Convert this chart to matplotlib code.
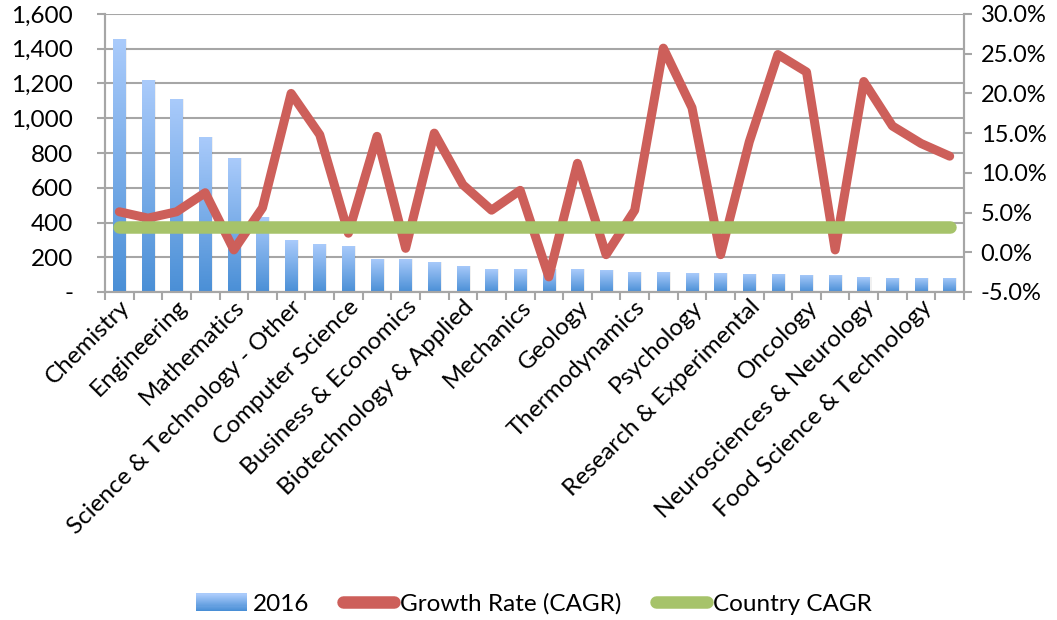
import numpy as np
import matplotlib
matplotlib.use("Agg")
import matplotlib.pyplot as plt
from matplotlib.ticker import FuncFormatter, FixedLocator
from matplotlib.patches import Rectangle
from matplotlib.lines import Line2D
from matplotlib.legend_handler import HandlerBase

plt.rcParams['font.family'] = ['Lato', 'DejaVu Sans']

categories = [
    "Chemistry", "Physics", "Engineering", "Materials Science", "Mathematics",
    "Optics", "Science & Technology - Other", "Polymer Science", "Computer Science",
    "Metallurgy", "Business & Economics", "Energy & Fuels", "Biotechnology & Applied",
    "Environmental Sciences", "Mechanics", "Instruments", "Geology", "Crystallography",
    "Thermodynamics", "Pharmacology", "Psychology", "Spectroscopy",
    "Research & Experimental", "Microbiology", "Oncology", "Acoustics",
    "Neurosciences & Neurology", "Water Resources", "Food Science & Technology",
    "Agriculture",
]
counts_2016 = [1456, 1220, 1111, 894, 771, 432, 299, 276, 265, 192,
               190, 173, 150, 132, 132, 130, 132, 127, 115, 115,
               109, 109, 104, 104, 98, 98, 86, 81, 81, 81]
growth_rate = [5.1, 4.3, 5.1, 7.5, 0.3, 5.6, 20.0, 14.8, 2.4, 14.6,
               0.5, 15.0, 8.5, 5.3, 7.8, -3.1, 11.2, -0.3, 5.3, 25.7,
               18.2, -0.3, 13.9, 24.9, 22.7, 0.3, 21.5, 15.9, 13.7, 12.1]
country_cagr = 3.2

left_ticks = [0, 200, 400, 600, 800, 1000, 1200, 1400, 1600]
right_ticks = [-5, 0, 5, 10, 15, 20, 25, 30]

bar_top = "#aacbfb"
bar_bottom = "#4a8fd6"
red = "#cd5f5a"
green = "#a6c36a"
grid_col = "#a6a6a6"

cmap = matplotlib.colors.LinearSegmentedColormap.from_list("bargrad", [bar_bottom, bar_top])


class GradientPatchHandler(HandlerBase):
    """Legend key drawn as a stack of thin strips fading from dark to light blue."""

    def create_artists(self, legend, orig_handle, xdescent, ydescent, width, height,
                       fontsize, trans):
        strips = []
        steps = 16
        for k in range(steps):
            y0 = -ydescent + height * k / steps
            r = Rectangle((-xdescent, y0), width, height / steps + 0.2,
                          facecolor=cmap(k / (steps - 1)), edgecolor="none",
                          transform=trans)
            strips.append(r)
        return strips


fig = plt.figure(figsize=(10.57, 6.20), dpi=100)
ax = fig.add_axes([105 / 1057, 1 - 292 / 620, (964 - 105) / 1057, (292 - 14) / 620])
ax2 = ax.twinx()

n = len(categories)
x = np.arange(n)

# bars with vertical gradient fill
bars = ax.bar(x, counts_2016, width=0.44, color="none", zorder=2)
grad = np.linspace(0, 1, 256).reshape(-1, 1)
for b in bars:
    x0, w, h = b.get_x(), b.get_width(), b.get_height()
    shadow = Rectangle((x0 + 0.05, 0), w, h, facecolor="#000000", alpha=0.06,
                       edgecolor="none", zorder=1.5)
    ax.add_patch(shadow)
    img = ax.imshow(grad, extent=(x0, x0 + w, 0, h), origin="lower", aspect="auto",
                    cmap=cmap, zorder=2, interpolation="bicubic")
    img.set_clip_path(b)

ax.set_xlim(-0.5, n - 0.5)
ax.set_ylim(0, 1600)
ax.yaxis.set_major_locator(FixedLocator(left_ticks))
ax.yaxis.set_major_formatter(FuncFormatter(lambda v, p: "-" if v == 0 else f"{int(v):,}"))
ax.grid(axis="y", color=grid_col, linewidth=1.5, zorder=0)
ax.set_axisbelow(True)

# category labels on every other category; tick marks on boundaries
ax.set_xticks(x[::2])
ax.set_xticklabels(categories[::2], rotation=45, ha="right", rotation_mode="anchor",
                   fontsize=17.5)
ax.tick_params(axis="x", length=0, pad=3)
ax.set_xticks(np.arange(-0.5, n, 1.0), minor=True)
ax.tick_params(axis="x", which="minor", length=6, width=1.5, color=grid_col, direction="out")

ax.tick_params(axis="y", length=6, width=1.5, color=grid_col, labelsize=17.5, pad=17)

for a in (ax, ax2):
    a.spines["top"].set_visible(False)
    for side in ["left", "right", "bottom"]:
        a.spines[side].set_color(grid_col)
        a.spines[side].set_linewidth(1.5)

ax2.plot(x, growth_rate, color=red, linewidth=6.5, solid_capstyle="round",
         solid_joinstyle="round", zorder=3)
ax2.plot(x, [country_cagr] * n, color=green, linewidth=9, solid_capstyle="round", zorder=4)
ax2.set_ylim(-5, 30)
ax2.yaxis.set_major_locator(FixedLocator(right_ticks))
ax2.yaxis.set_major_formatter(FuncFormatter(lambda v, p: f"{v:.1f}%"))
ax2.tick_params(axis="y", length=6, width=1.5, color=grid_col, labelsize=17, pad=6)

bar_key = Rectangle((0, 0), 1, 1, facecolor=bar_bottom, edgecolor="none")
handles = [
    bar_key,
    Line2D([], [], color=red, linewidth=9, solid_capstyle="round"),
    Line2D([], [], color=green, linewidth=9, solid_capstyle="round"),
]
leg = fig.legend(handles, ["2016", "Growth Rate (CAGR)", "Country CAGR"],
                 loc="center", bbox_to_anchor=(0.505, 1 - 604 / 620), ncol=3,
                 frameon=False, fontsize=17.5, handlelength=2.1, handletextpad=0.25,
                 columnspacing=1.4, handler_map={bar_key: GradientPatchHandler()})

fig.savefig("out.png", dpi=100)
